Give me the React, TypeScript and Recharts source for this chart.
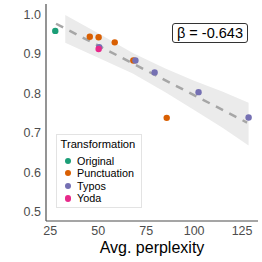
import React from 'react';
import { ComposedChart, Scatter, Line, Area, XAxis, YAxis } from 'recharts';

const originalData = [{ x: 27.6, y: 0.958 }];
const punctuationData = [
  { x: 45.6, y: 0.943 },
  { x: 50.2, y: 0.942 },
  { x: 58.6, y: 0.929 },
  { x: 68.3, y: 0.883 },
  { x: 85.7, y: 0.738 },
];
const typosData = [
  { x: 50.5, y: 0.917 },
  { x: 69.4, y: 0.883 },
  { x: 79.4, y: 0.853 },
  { x: 102.3, y: 0.803 },
  { x: 128.4, y: 0.739 },
];
const yodaData = [{ x: 50.2, y: 0.912 }];

const fitLine = [
  { x: 28, y: 0.976 },
  { x: 127.6, y: 0.726 },
];
const bandX = [32.8, 50, 68, 85, 100, 115, 128.4];
const bandLow = [0.928, 0.89, 0.85, 0.803, 0.758, 0.712, 0.668];
const bandHigh = [0.998, 0.952, 0.902, 0.863, 0.832, 0.804, 0.776];

const xTicks = [25, 50, 75, 100, 125];
const yTicks = [0.5, 0.6, 0.7, 0.8, 0.9, 1.0];
const beta = 'β = -0.643';

const groups = [
  { name: 'Original', color: '#1B9E77', data: originalData },
  { name: 'Punctuation', color: '#D95F02', data: punctuationData },
  { name: 'Typos', color: '#7570B3', data: typosData },
  { name: 'Yoda', color: '#E7298A', data: yodaData },
];

const FONT = '"Liberation Sans", Arial, Helvetica, sans-serif';

const bandData = bandX.map((x, i) => ({ x, range: [bandLow[i], bandHigh[i]] }));

export default function App() {
  return (
    <div style={{ position: 'absolute', left: 0, top: 0, width: 262, height: 262, fontFamily: FONT, background: '#fff' }}>
      <ComposedChart width={262} height={262} margin={{ top: 4, right: 4, bottom: 0, left: 0 }}>
        <XAxis
          type="number"
          dataKey="x"
          domain={[22.76, 133.3]}
          ticks={xTicks}
          allowDataOverflow
          tickLine={false}
          tickSize={0}
          tickMargin={5}
          axisLine={{ stroke: '#4d4d4d', strokeWidth: 1.2 }}
          tick={{ fill: '#4d4d4d', fontSize: 12.5, fontFamily: FONT }}
          height={41}
          label={{ value: 'Avg. perplexity', position: 'insideBottom', offset: 9.5, fill: '#000', fontSize: 16, fontFamily: FONT }}
        />
        <YAxis
          type="number"
          dataKey="y"
          domain={[0.477, 1.026]}
          ticks={yTicks}
          allowDataOverflow
          tickFormatter={(v: number) => v.toFixed(1)}
          tickLine={false}
          tickSize={0}
          tickMargin={5}
          axisLine={{ stroke: '#4d4d4d', strokeWidth: 1.2 }}
          tick={{ fill: '#4d4d4d', fontSize: 12.5, fontFamily: FONT }}
          width={46}
        />
        <Area
          data={bandData}
          dataKey="range"
          type="linear"
          stroke="none"
          fill="#ebebeb"
          fillOpacity={1}
          isAnimationActive={false}
          activeDot={false}
        />
        <Line
          data={fitLine}
          dataKey="y"
          type="linear"
          stroke="#a6a6a6"
          strokeWidth={2.5}
          strokeDasharray="8 7"
          dot={false}
          activeDot={false}
          isAnimationActive={false}
        />
        {groups.map((g) => (
          <Scatter
            key={g.name}
            name={g.name}
            data={g.data}
            dataKey="y"
            fill={g.color}
            isAnimationActive={false}
            shape={(p: any) => <circle cx={p.cx} cy={p.cy} r={3.2} fill={g.color} />}
          />
        ))}
      </ComposedChart>

      <div
        style={{
          position: 'absolute',
          left: 172,
          top: 23,
          width: 76,
          height: 20,
          boxSizing: 'border-box',
          border: '1px solid #333',
          borderRadius: 3,
          background: '#fff',
          fontSize: 14.5,
          lineHeight: '18px',
          textAlign: 'center',
          color: '#000',
          whiteSpace: 'nowrap',
        }}
      >
        {beta}
      </div>

      <div
        style={{
          position: 'absolute',
          left: 56,
          top: 134,
          width: 86,
          height: 74,
          boxSizing: 'border-box',
          border: '1px solid #e3e3e3',
          background: '#fff',
        }}
      >
        <div style={{ position: 'absolute', left: 3.5, top: 3, fontSize: 11.2, lineHeight: '13px', color: '#000', whiteSpace: 'nowrap' }}>
          Transformation
        </div>
        {groups.map((g, i) => (
          <div key={g.name} style={{ position: 'absolute', left: 0, top: 19.5 + i * 12.6, height: 12, width: 84 }}>
            <div
              style={{
                position: 'absolute',
                left: 7.5,
                top: 3,
                width: 6.4,
                height: 6.4,
                borderRadius: '50%',
                background: g.color,
              }}
            />
            <div style={{ position: 'absolute', left: 20, top: 0, fontSize: 10.8, lineHeight: '12px', color: '#000', whiteSpace: 'nowrap' }}>
              {g.name}
            </div>
          </div>
        ))}
      </div>
    </div>
  );
}
